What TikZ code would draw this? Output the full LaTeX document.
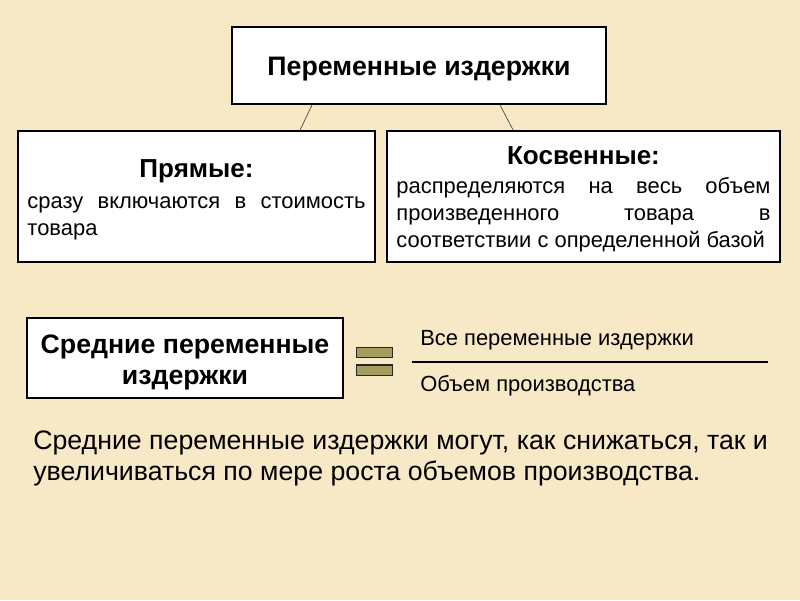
\documentclass[tikz,border=0pt]{standalone}
\usepackage{fontspec}
\setmainfont{Liberation Sans}
\usetikzlibrary{positioning, calc}
\definecolor{paperbg}{HTML}{F7E8C6}
\definecolor{eqolive}{HTML}{A39D5E}
\tikzset{
  costbox/.style={draw=black, line width=1.4pt, fill=white, inner sep=0pt},
  eqbar/.style={draw=black!85, line width=0.8pt, fill=eqolive, minimum width=0.9cm, minimum height=0.27cm, inner sep=0pt}
}
\begin{document}
\begin{tikzpicture}[x=0.025cm, y=-0.025cm]
    \path[fill=paperbg] (0,0) rectangle (800,600);
    \node[costbox, minimum width=9.35cm, minimum height=1.925cm, text height=14.3pt, text depth=0pt] (varcost) at (419,65.5)
      {\fontsize{19}{22}\selectfont\bfseries Переменные издержки};
    \node[costbox, minimum width=8.925cm, minimum height=3.275cm] (direct) at (196.5,196.5) {%
      \begin{minipage}{8.45cm}
        \fontsize{15.6}{19}\selectfont
        \vspace*{4.3pt}
        \centerline{\fontsize{18.5}{22}\selectfont\bfseries Прямые:}\vspace{3.4pt}
        сразу включаются в стоимость\linebreak товара
      \end{minipage}};
    \node[costbox, minimum width=9.825cm, minimum height=3.275cm] (indirect) at (583.5,196.5) {%
      \begin{minipage}{9.35cm}
        \fontsize{15.6}{19}\selectfont
        \vspace*{3.5pt}
        \centerline{\fontsize{18.5}{20}\selectfont\bfseries Косвенные:}\vspace{2.1pt}
        распределяются на весь объем\linebreak произведенного товара в\linebreak соответствии с определенной базой
      \end{minipage}};
    \draw[line width=0.5pt, black!70] ([xshift=-2.675cm]varcost.south) -- ([xshift=2.59cm]direct.north);
    \draw[line width=0.5pt, black!70] ([xshift=2.025cm]varcost.south) -- ([xshift=-1.76cm]indirect.north);
    \node[costbox, minimum width=7.9cm, minimum height=2cm, align=center,
          font=\fontsize{19}{22}\selectfont\bfseries] (avgcost) at (185,358)
      {\rule{0pt}{19.5pt}Средние переменные\\издержки};
    \node[eqbar] (eqtop) at (374.5,352.5) {};
    \node[eqbar, below=0.15cm of eqtop] (eqbot) {};
    \node[anchor=west, inner sep=0pt] (numer) at (420,340)
      {\fontsize{15.6}{18}\selectfont Все переменные издержки};
    \node[anchor=west, inner sep=0pt] (denom) at (420,386)
      {\fontsize{15.6}{18}\selectfont Объем производства};
    \coordinate (barl) at (412,362);
    \coordinate (barr) at (768,362);
    \draw[line width=2pt] (barl) -- (barr);
    \node[anchor=west, align=left, inner sep=0pt,
          font=\fontsize{19}{22}\selectfont] (remark) at (33,458)
      {Средние переменные издержки могут, как снижаться, так и\\
       увеличиваться по мере роста объемов производства.};
\end{tikzpicture}
\end{document}
